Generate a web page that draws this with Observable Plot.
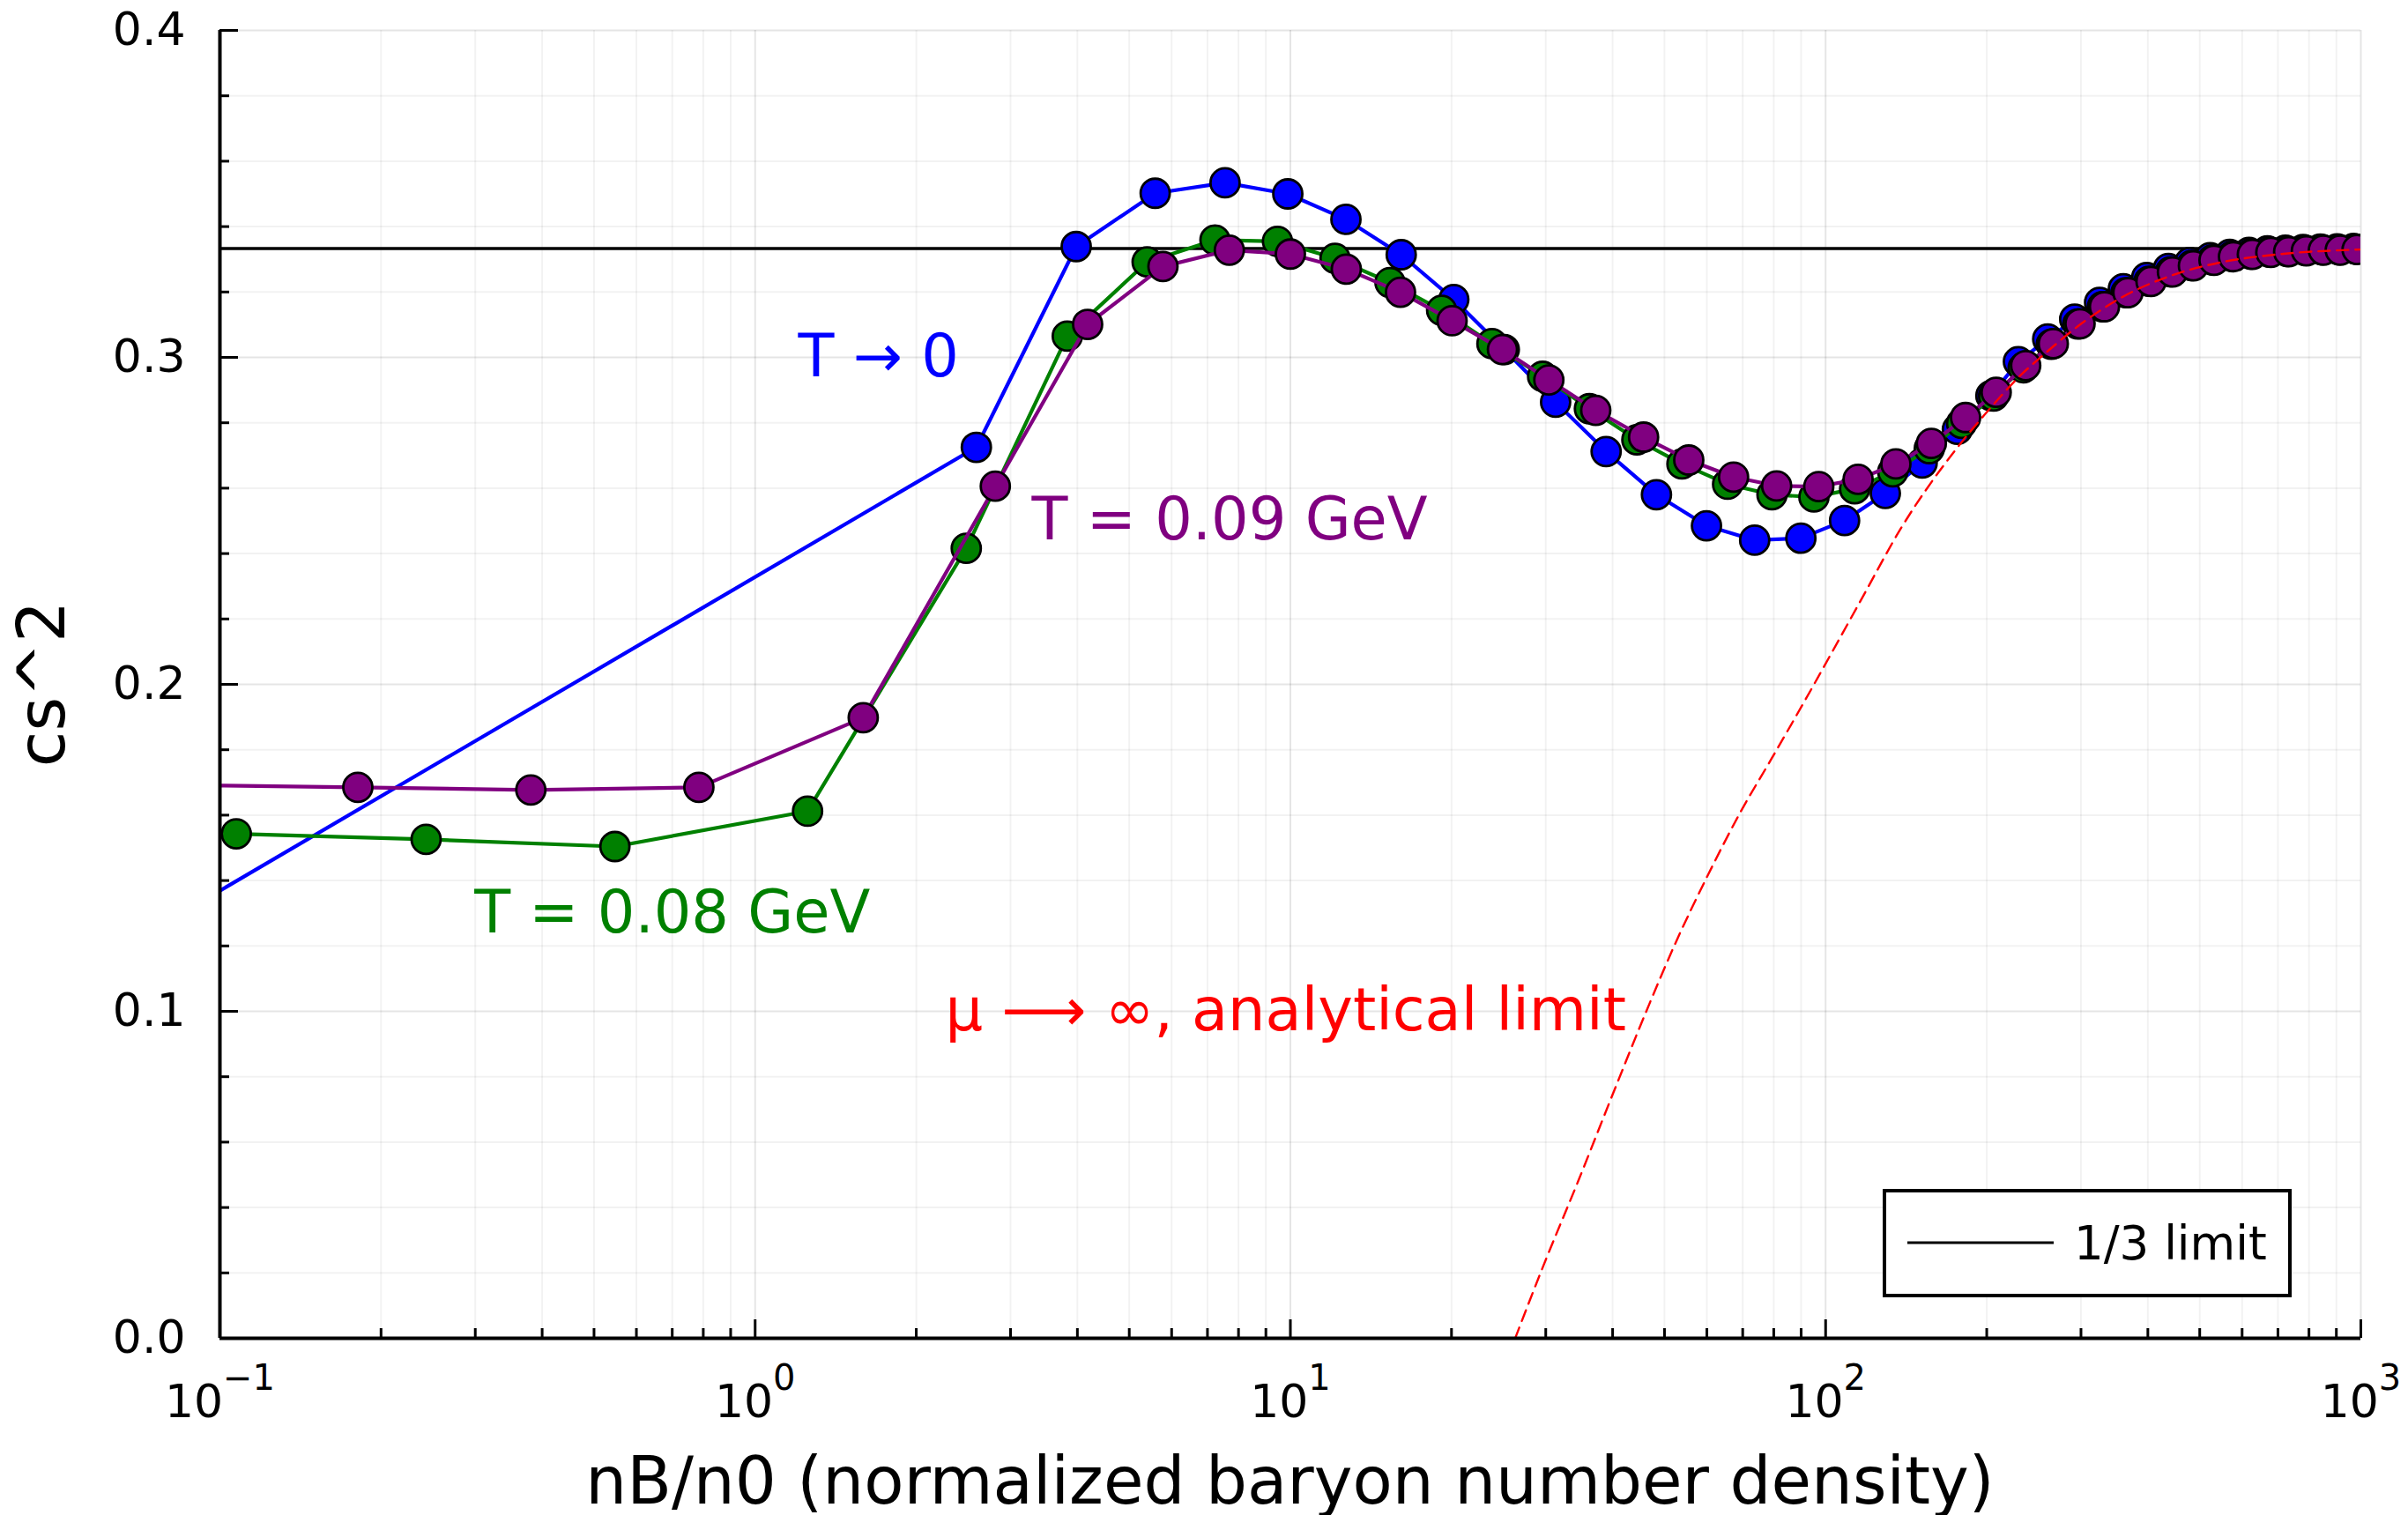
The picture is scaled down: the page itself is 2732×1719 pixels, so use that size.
<!DOCTYPE html>
<html><head><meta charset="utf-8">
<script src="https://cdn.jsdelivr.net/npm/d3@7"></script>
<script src="https://cdn.jsdelivr.net/npm/@observablehq/plot@0.6"></script>
<style>
html,body{margin:0;padding:0;background:#fff;}
#chart svg{display:block;}
</style></head><body><div id="chart"></div>
<script>
// ---- data ----
const blueX = [0.05, 2.59, 3.98, 5.59, 7.55, 9.89, 12.70, 16.11, 20.2, 25.1, 31.3, 38.9, 48.3, 59.9, 73.7, 89.9, 108.5, 129.3, 151.5, 176.3, 203.6, 229.2, 260, 292, 325, 360, 398, 437, 479, 523, 569, 618, 669, 723, 780, 840, 903, 970];
const blueY = [0.108, 0.2725, 0.3339, 0.3502, 0.3534, 0.3500, 0.3422, 0.3314, 0.3177, 0.3024, 0.2863, 0.2712, 0.2580, 0.2485, 0.2441, 0.2447, 0.2501, 0.2584, 0.2677, 0.2780, 0.2883, 0.2987, 0.3056, 0.3117, 0.3168, 0.3210, 0.3244, 0.3272, 0.3290, 0.3305, 0.3315, 0.3321, 0.3326, 0.3328, 0.3330, 0.3331, 0.3332, 0.3333];

const greenX = [0.1073, 0.2428, 0.547, 1.253, 2.48, 3.83, 5.40, 7.23, 9.46, 12.12, 15.35, 19.17, 23.8, 29.6, 36.2, 44.4, 53.9, 65.6, 79.4, 95.1, 113.3, 133.5, 156.2, 179.5, 206, 234, 264, 296, 329, 364, 402, 441, 483, 528, 574, 623, 675, 729, 787, 847, 911, 980];
const greenY = [0.1543, 0.1526, 0.1504, 0.1612, 0.2416, 0.3065, 0.3292, 0.3359, 0.3355, 0.3303, 0.3229, 0.3144, 0.3042, 0.2942, 0.2843, 0.2748, 0.2674, 0.2612, 0.2580, 0.2573, 0.2598, 0.2650, 0.2721, 0.2798, 0.2882, 0.2968, 0.3040, 0.3102, 0.3155, 0.3198, 0.3233, 0.3262, 0.3281, 0.3298, 0.3309, 0.3316, 0.3322, 0.3324, 0.3327, 0.3329, 0.3329, 0.3331];

const purpleX = [0.086, 0.181, 0.381, 0.785, 1.592, 2.81, 4.18, 5.78, 7.69, 10.0, 12.72, 16.06, 20.05, 24.9, 30.4, 37.2, 45.7, 55.5, 67.3, 81.0, 97.1, 115.0, 135.3, 157.6, 182.6, 208.3, 236.5, 266.3, 298.8, 331.9, 367.2, 405.5, 444.6, 486.6, 531.7, 578.2, 627, 679, 733, 791, 851, 915, 984];
const purpleY = [0.1692, 0.1685, 0.1677, 0.1685, 0.1898, 0.2606, 0.3101, 0.3278, 0.3328, 0.3316, 0.3270, 0.3199, 0.3112, 0.3024, 0.2931, 0.2838, 0.2756, 0.2686, 0.2634, 0.2607, 0.2605, 0.2627, 0.2674, 0.2737, 0.2816, 0.2893, 0.2975, 0.3042, 0.3103, 0.3155, 0.3198, 0.3232, 0.3261, 0.3280, 0.3297, 0.3308, 0.3315, 0.3321, 0.3323, 0.3326, 0.3328, 0.3328, 0.3330];

const limitX = [26.3, 29.8, 34.5, 40.1, 46.1, 52.3, 60.2, 69.1, 79.4, 91.3, 116, 138.6, 176, 198, 234, 255, 297, 357, 442, 557, 700, 1000];
const limitY = [0, 0.0228, 0.0481, 0.0750, 0.0995, 0.1205, 0.1415, 0.1605, 0.1775, 0.1948, 0.2253, 0.2480, 0.2723, 0.2824, 0.2953, 0.3007, 0.3097, 0.3183, 0.3250, 0.3293, 0.3315, 0.3330];

const oneThird = [0.3333];
const legendLabel = "1/3 limit";

const annText = ["T \u2192 0", "T = 0.09 GeV", "T = 0.08 GeV", "\u03bc \u27f6 \u221e, analytical limit"];
const annX = [1.7, 7.7, 0.7, 9.8];
const annY = [0.30, 0.25, 0.13, 0.10];
const annColor = ["blue", "purple", "green", "red"];

const xMajorTicks = [0.1, 1, 10, 100, 1000];
const xMinorTicks = [0.2,0.3,0.4,0.5,0.6,0.7,0.8,0.9, 2,3,4,5,6,7,8,9, 20,30,40,50,60,70,80,90, 200,300,400,500,600,700,800,900];
const yMajorTicks = [0, 0.1, 0.2, 0.3, 0.4];
const yMinorTicks = [0.02,0.04,0.06,0.08, 0.12,0.14,0.16,0.18, 0.22,0.24,0.26,0.28, 0.32,0.34,0.36,0.38];

const xLabel = "nB/n0 (normalized baryon number density)";
const yLabel = "cs^2";

// ---- build ----
const rows = (xs, ys) => xs.map((x, i) => ({x, y: ys[i]}));
const blue = rows(blueX, blueY);
const green = rows(greenX, greenY);
const purple = rows(purpleX, purpleY);
const limit = rows(limitX, limitY);
const ann = annText.map((t, i) => ({text: t, x: annX[i], y: annY[i], color: annColor[i]}));

const W = 2732, H = 1719;
const ML = 249, MR = 54, MT = 34, MB = 201;
const tickFont = 52;

function series(data, color) {
  return [
    Plot.line(data, {x: "x", y: "y", stroke: color, strokeWidth: 4.2, clip: true}),
    Plot.dot(data, {x: "x", y: "y", r: 16.5, fill: color, stroke: "black", strokeWidth: 2.8, clip: true})
  ];
}

const chart = Plot.plot({
  width: W, height: H,
  marginLeft: ML, marginRight: MR, marginTop: MT, marginBottom: MB,
  style: {fontFamily: "DejaVu Sans", background: "white", color: "black"},
  x: {type: "log", domain: [0.1, 1000], label: null},
  y: {domain: [0, 0.4], label: null},
  marks: [
    Plot.gridX({ticks: xMinorTicks, stroke: "black", strokeOpacity: 0.05, strokeWidth: 2}),
    Plot.gridY({ticks: yMinorTicks, stroke: "black", strokeOpacity: 0.05, strokeWidth: 2}),
    Plot.gridX({ticks: xMajorTicks, stroke: "black", strokeOpacity: 0.1, strokeWidth: 2}),
    Plot.gridY({ticks: yMajorTicks, stroke: "black", strokeOpacity: 0.1, strokeWidth: 2}),
    Plot.ruleY(oneThird, {stroke: "black", strokeWidth: 3.5}),
    ...series(blue, "blue"),
    ...series(green, "green"),
    ...series(purple, "purple"),
    Plot.line(limit, {x: "x", y: "y", stroke: "red", strokeWidth: 2.4, strokeDasharray: "13,8", curve: "monotone-x", clip: true}),
    Plot.text(ann, {x: "x", y: "y", text: "text", fill: "color", fontSize: 67, textAnchor: "middle"}),
    Plot.ruleX([0.1], {stroke: "black", strokeWidth: 4}),
    Plot.ruleY([0], {stroke: "black", strokeWidth: 4}),
    Plot.axisY({ticks: yMinorTicks, tickSize: -11, tickFormat: () => "", strokeWidth: 3, label: null}),
    Plot.axisY({ticks: yMajorTicks, tickSize: -21, tickPadding: 60, tickFormat: d => d.toFixed(1), fontSize: tickFont, strokeWidth: 3, label: null}),
    Plot.axisX({ticks: xMinorTicks, tickSize: -11, tickFormat: () => "", strokeWidth: 3, label: null}),
    Plot.axisX({ticks: xMajorTicks, tickSize: -21, tickPadding: 74, tickFormat: d => "10^" + Math.round(Math.log10(d)), fontSize: tickFont, strokeWidth: 3, label: null})
  ]
});

// superscript exponents on the x tick labels
d3.select(chart).selectAll('[aria-label="x-axis tick label"] text').each(function() {
  const s = this.textContent;
  if (!s.includes("^")) return;
  const [base, exp] = s.split("^");
  const t = d3.select(this);
  t.text(base);
  t.append("tspan").attr("dy", -31).attr("font-size", 40).text(exp.replace("-", "\u2212"));
});

const svg = d3.select(chart);
// axis titles
svg.append("text").attr("x", ML + (W - ML - MR) / 2).attr("y", 1706)
  .attr("text-anchor", "middle").attr("font-size", 74).attr("font-family", "DejaVu Sans").attr("fill", "black").text(xLabel);
svg.append("text").attr("transform", `translate(73,${MT + (H - MT - MB) / 2}) rotate(-90)`)
  .attr("text-anchor", "middle").attr("font-size", 74).attr("font-family", "DejaVu Sans").attr("fill", "black").text(yLabel);

// legend box (inside plot, bottom right)
const lg = svg.append("g");
lg.append("rect").attr("x", 2138).attr("y", 1351).attr("width", 460).attr("height", 119)
  .attr("fill", "white").attr("stroke", "black").attr("stroke-width", 4);
lg.append("line").attr("x1", 2164).attr("x2", 2330).attr("y1", 1410).attr("y2", 1410)
  .attr("stroke", "black").attr("stroke-width", 3);
lg.append("text").attr("x", 2353).attr("y", 1429).attr("font-size", 53).attr("font-family", "DejaVu Sans")
  .attr("text-anchor", "start").attr("fill", "black").text(legendLabel);

document.getElementById("chart").appendChild(chart);
</script></body></html>
